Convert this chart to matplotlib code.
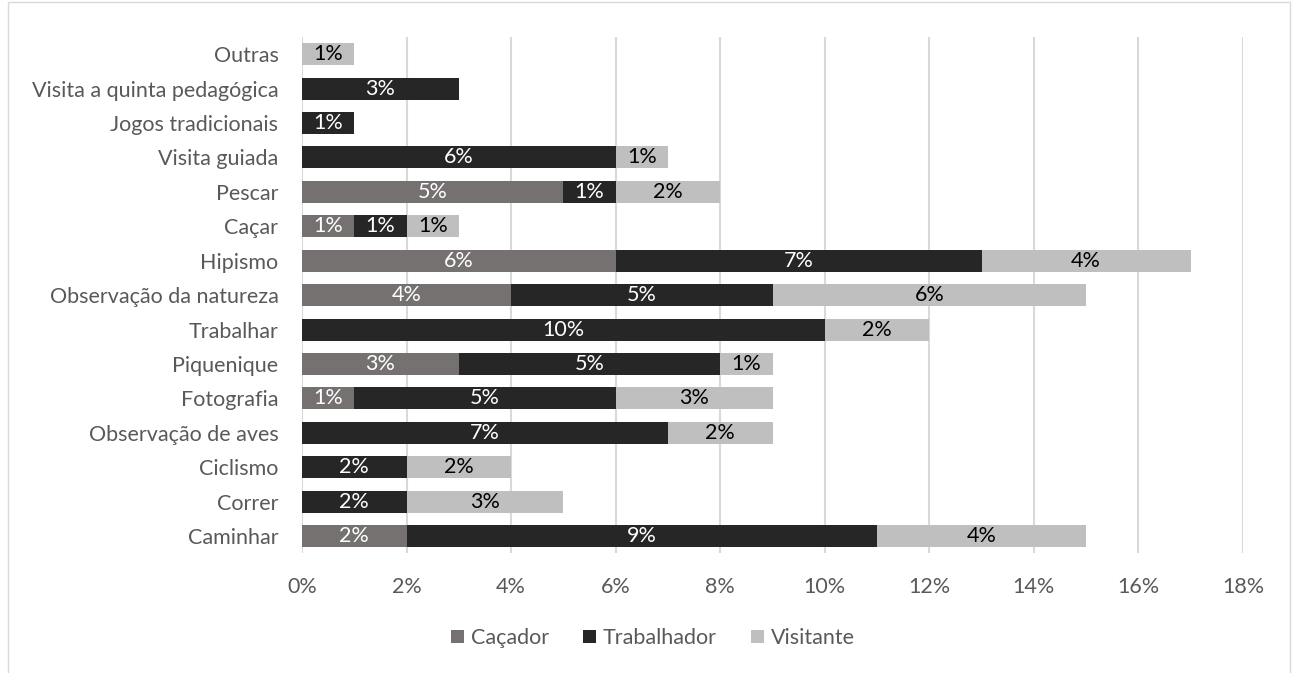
import numpy as np
import matplotlib
matplotlib.use('Agg')
import matplotlib.pyplot as plt
from matplotlib.patches import Rectangle

plt.rcParams['font.family'] = ['Lato', 'DejaVu Sans']

# data, bottom to top (values in %)
categories = ['Caminhar', 'Correr', 'Ciclismo', 'Observação de aves', 'Fotografia',
              'Piquenique', 'Trabalhar', 'Observação da natureza', 'Hipismo', 'Caçar',
              'Pescar', 'Visita guiada', 'Jogos tradicionais',
              'Visita a quinta pedagógica', 'Outras']
cacador = [2, 0, 0, 0, 1, 3, 0, 4, 6, 1, 5, 0, 0, 0, 0]
trabalhador = [9, 2, 2, 7, 5, 5, 10, 5, 7, 1, 1, 6, 1, 3, 0]
visitante = [4, 3, 2, 2, 3, 1, 2, 6, 4, 1, 2, 1, 0, 0, 1]

series = [('Caçador', cacador, '#767171', 'white'),
          ('Trabalhador', trabalhador, '#262626', 'white'),
          ('Visitante', visitante, '#BFBFBF', 'black')]

FS = 15.5

fig = plt.figure(figsize=(12.98, 6.73), dpi=100)
ax = fig.add_axes([0.2327, 0.178, 0.7249, 0.767])

# chart border
fig.patches.append(Rectangle((8 / 1298, -0.05), (1290 - 8) / 1298, 1.05 - 2 / 673,
                             transform=fig.transFigure, fill=False,
                             edgecolor='#D9D9D9', linewidth=1))

y = np.arange(len(categories))
left = np.zeros(len(categories))
handles = []
for name, vals, color, tcol in series:
    vals = np.array(vals, dtype=float)
    bars = ax.barh(y, vals, left=left, height=0.64, color=color, label=name, zorder=3)
    handles.append(bars)
    for yi, l, v in zip(y, left, vals):
        if v > 0:
            ax.text(l + v / 2, yi, f'{int(v)}%', ha='center', va='center',
                    color=tcol, fontsize=FS, zorder=4)
    left += vals

ax.set_xlim(0, 18)
ax.set_ylim(-0.5, len(categories) - 0.5)
ax.set_xticks(np.arange(0, 19, 2))
ax.set_xticklabels([f'{t}%' for t in range(0, 19, 2)])
ax.set_yticks(y)
ax.set_yticklabels(categories)
ax.tick_params(axis='both', length=0, labelsize=FS, colors='#595959')
ax.tick_params(axis='y', pad=17)
ax.tick_params(axis='x', pad=17)
ax.grid(axis='x', color='#D9D9D9', linewidth=1.5, zorder=0)
for s in ax.spines.values():
    s.set_visible(False)

leg = fig.legend(handles=handles, loc='center', bbox_to_anchor=(0.503, 1 - 638 / 673),
                 ncol=3, frameon=False, fontsize=FS, handlelength=0.6, handleheight=0.6,
                 columnspacing=1.6, handletextpad=0.3)
for t in leg.get_texts():
    t.set_color('#595959')

fig.savefig('out.png', dpi=100)
